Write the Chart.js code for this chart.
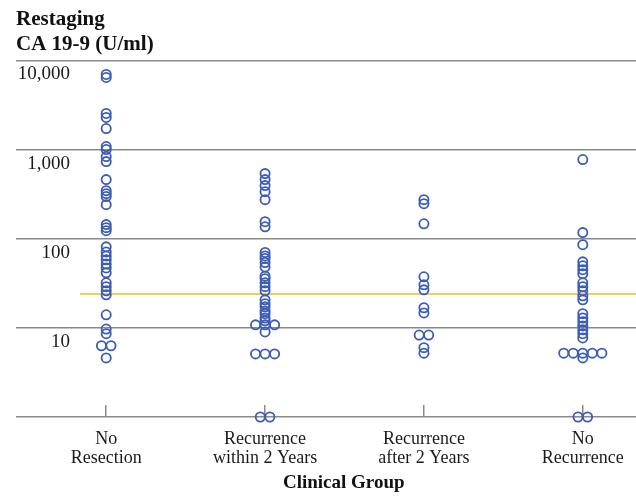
<!DOCTYPE html>
<html>
<head>
<meta charset="utf-8">
<script src="https://cdn.jsdelivr.net/npm/chart.js@4.4.0/dist/chart.umd.min.js"></script>
<style>
  html, body { margin: 0; padding: 0; background: #fff; }
</style>
</head>
<body>
<canvas id="chart" width="636" height="496"></canvas>
<script>
// clinical groups (x categories), two-line labels
const groups = [['No', 'Resection'], ['Recurrence', 'within 2 Years'], ['Recurrence', 'after 2 Years'], ['No', 'Recurrence']];

// restaging CA 19-9 (U/ml) per patient (1 = undetectable)
const noResection = [6960, 6440, 2540, 2290, 1720, 1080, 1000, 835, 733, 460, 346, 320, 297, 241, 144, 133, 123,
  81, 71, 64, 58, 52, 47, 41.5, 32, 29, 26, 23.5, 14, 9.7, 8.6, 6.3, 6.3, 4.6];
const within2Years = [537, 460, 394, 337, 274, 155, 136, 70, 64, 60, 54, 48, 38, 35.5, 32, 29, 26,
  20.6, 18.6, 17.2, 15.5, 14.4, 12.9, 12, 10.8, 10.8, 10.8, 9, 5.1, 5.1, 5.1, 1, 1];
const after2Years = [274, 247, 147, 37.4, 30.4, 26.7, 16.8, 14.7, 8.3, 8.3, 6.0, 5.2];
const noRecurrence = [772, 117, 85.6, 55, 49.7, 44.9, 40.4, 32, 28.9, 26, 22.9, 20.6, 14.4, 12.9, 11.7,
  10.5, 9.5, 8.6, 7.7, 5.2, 5.2, 5.2, 5.2, 5.2, 4.6, 1, 1];

const cutoff = 24;
const yTicks = [1, 10, 100, 1000, 10000];

const SERIF = "'Liberation Serif', 'Times New Roman', serif";
const BLUE = '#3d5db5';
const GRID = '#8a8a8a';
const X_MIN = 0.835, X_MAX = 4.335;

// equal values in a group sit side by side
function spread(values, cat) {
  const count = {}, seen = {};
  values.forEach(v => count[v] = (count[v] || 0) + 1);
  return values.map(v => {
    const k = seen[v] = (seen[v] === undefined ? 0 : seen[v] + 1);
    return { x: cat + (k - (count[v] - 1) / 2) * 0.06, y: v };
  });
}

const pointSet = (values, cat) => ({
  type: 'scatter',
  data: spread(values, cat),
  pointRadius: 4.6,
  pointBorderWidth: 1.8,
  pointBorderColor: BLUE,
  pointBackgroundColor: 'rgba(0,0,0,0)',
  clip: false
});

new Chart(document.getElementById('chart'), {
  type: 'scatter',
  data: {
    datasets: [
      pointSet(noResection, 1),
      pointSet(within2Years, 2),
      pointSet(after2Years, 3),
      pointSet(noRecurrence, 4),
      {
        type: 'line',
        data: [{ x: X_MIN, y: cutoff }, { x: X_MAX, y: cutoff }],
        borderColor: '#f2b824',
        borderWidth: 1.5,
        pointRadius: 0
      }
    ]
  },
  options: {
    responsive: false,
    animation: false,
    devicePixelRatio: 1,
    layout: { autoPadding: false, padding: { left: 16, right: 0, top: 0, bottom: 0 } },
    plugins: {
      legend: { display: false },
      tooltip: { enabled: false },
      title: {
        display: true,
        text: ['Restaging', 'CA 19-9 (U/ml)'],
        align: 'start',
        color: '#111',
        font: { family: SERIF, size: 21, weight: 'bold', lineHeight: 1.2 },
        padding: { top: 7, bottom: 3 }
      }
    },
    scales: {
      x: {
        type: 'linear',
        min: X_MIN,
        max: X_MAX,
        afterBuildTicks: s => { s.ticks = groups.map((g, i) => ({ value: i + 1 })); },
        afterFit: s => { s.height = 79; s.paddingLeft = 0; s.paddingRight = 0; },
        ticks: {
          callback: v => groups[v - 1],
          autoSkip: false,
          maxRotation: 0,
          color: '#1a1a1a',
          font: { family: SERIF, size: 18, lineHeight: 1.1 },
          padding: 24
        },
        grid: { drawOnChartArea: false, drawTicks: true, tickLength: -12, color: GRID, lineWidth: 1.5 },
        border: { display: false },
        title: {
          display: true,
          text: 'Clinical Group\u00a0\u00a0\u00a0\u00a0\u00a0\u00a0',
          color: '#111',
          font: { family: SERIF, size: 19, weight: 'bold' },
          padding: { top: 2, bottom: 2 }
        }
      },
      y: {
        type: 'logarithmic',
        min: 1,
        max: 10000,
        afterBuildTicks: s => { s.ticks = yTicks.map(v => ({ value: v })); },
        afterFit: s => { s.width = 64; s.paddingTop = 0; s.paddingBottom = 0; },
        ticks: {
          callback: v => v === 1 ? '' : v.toLocaleString('en-US'),
          color: '#1a1a1a',
          font: { family: SERIF, size: 19 },
          padding: -54,
          labelOffset: 14
        },
        grid: { color: GRID, lineWidth: 1.5, tickLength: 64 },
        border: { display: false }
      }
    }
  }
});
</script>
</body>
</html>
